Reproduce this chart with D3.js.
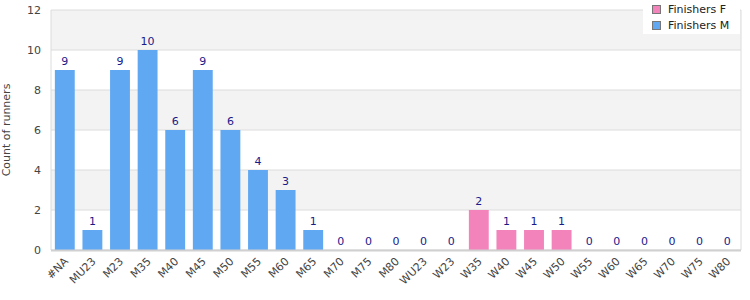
<!DOCTYPE html>
<meta charset="utf-8">
<style>
body { margin: 0; background: #fff; }
text { font-family: "DejaVu Sans", Verdana, sans-serif; }
.tick text { fill: #444; font-size: 11px; }
.val { fill: #1a1a8a; font-size: 11px; text-anchor: middle; }
</style>
<body>
<script src="https://d3js.org/d3.v7.min.js"></script>
<script>
// categories and counts
var categories = ["#NA","MU23","M23","M35","M40","M45","M50","M55","M60","M65","M70","M75","M80",
                  "WU23","W23","W35","W40","W45","W50","W55","W60","W65","W70","W75","W80"];
var finishersM = [9,1,9,10,6,9,6,4,3,1,0,0,0,0,0,null,null,null,null,null,null,null,null,null,null];
var finishersF = [null,null,null,null,null,null,null,null,null,null,null,null,null,null,null,2,1,1,1,0,0,0,0,0,0];
var yTicks = [0,2,4,6,8,10,12];
var seriesNames = ["Finishers F","Finishers M"];
var colors = {"Finishers F": "#f383bb", "Finishers M": "#60a8f2"};

var svg = d3.select("body").append("svg").attr("width", 750).attr("height", 300),
    margin = {top: 10, right: 9, bottom: 50, left: 51},
    width = 750 - margin.left - margin.right,
    height = 300 - margin.top - margin.bottom;

var g = svg.append("g").attr("transform", "translate(" + margin.left + "," + margin.top + ")");

var x = d3.scaleBand().domain(categories).range([0, width]).paddingInner(0.28).paddingOuter(0.14);
var y = d3.scaleLinear().domain([0, 12]).range([height, 0]);

// alternating bands
for (var i = 0; i < yTicks.length - 1; i++) {
  g.append("rect")
      .attr("x", 0).attr("width", width)
      .attr("y", y(yTicks[i + 1])).attr("height", y(yTicks[i]) - y(yTicks[i + 1]))
      .attr("fill", i % 2 === 1 ? "#f3f3f3" : "#fff");
}
g.selectAll(".grid").data(yTicks).enter().append("line")
    .attr("x1", 0).attr("x2", width)
    .attr("y1", function(d) { return y(d); }).attr("y2", function(d) { return y(d); })
    .attr("stroke", "#dcdcdc");
g.append("line").attr("x1", 0).attr("x2", 0).attr("y1", 0).attr("y2", height).attr("stroke", "#dcdcdc");
g.append("line").attr("x1", width).attr("x2", width).attr("y1", 0).attr("y2", height).attr("stroke", "#dcdcdc");

var rows = categories.map(function(c, i) {
  return {cat: c, m: finishersM[i], f: finishersF[i]};
});

[["m", "Finishers M"], ["f", "Finishers F"]].forEach(function(s) {
  var data = rows.filter(function(d) { return d[s[0]] !== null; });
  g.selectAll(".bar-" + s[0]).data(data).enter().append("rect")
      .attr("x", function(d) { return x(d.cat); })
      .attr("width", x.bandwidth())
      .attr("y", function(d) { return y(d[s[0]]); })
      .attr("height", function(d) { return height - y(d[s[0]]); })
      .attr("fill", colors[s[1]]);
  g.selectAll(".val-" + s[0]).data(data).enter().append("text")
      .attr("class", "val")
      .attr("x", function(d) { return x(d.cat) + x.bandwidth() / 2; })
      .attr("y", function(d) { return y(d[s[0]]) - 5; })
      .text(function(d) { return d[s[0]]; });
});

g.append("line").attr("x1", 0).attr("x2", width).attr("y1", height + 0.5).attr("y2", height + 0.5)
    .attr("stroke", "#d0d0d0").attr("stroke-width", 2);

var yAxis = g.append("g").call(d3.axisLeft(y).tickValues(yTicks).tickSize(0).tickPadding(10));
yAxis.select(".domain").remove();

var xAxis = g.append("g").attr("transform", "translate(0," + height + ")")
    .call(d3.axisBottom(x).tickSize(0));
xAxis.select(".domain").remove();
xAxis.selectAll("text")
    .attr("text-anchor", "end")
    .attr("dy", null)
    .attr("y", 0)
    .attr("transform", "translate(4,12) rotate(-45)");

svg.append("text")
    .attr("transform", "translate(10," + (margin.top + height / 2) + ") rotate(-90)")
    .attr("text-anchor", "middle")
    .attr("fill", "#444")
    .style("font-size", "11px")
    .text("Count of runners");

// legend
var legend = svg.append("g").attr("transform", "translate(643,0)");
legend.append("rect").attr("width", 97).attr("height", 34).attr("fill", "#fff");
seriesNames.forEach(function(n, i) {
  legend.append("rect").attr("x", 9.5).attr("y", 5.5 + i * 16).attr("width", 8).attr("height", 8)
      .attr("fill", colors[n]).attr("stroke", "#777");
  legend.append("text").attr("x", 25).attr("y", 13 + i * 16)
      .attr("fill", "#222").style("font-size", "11px").text(n);
});
</script>
</body>
